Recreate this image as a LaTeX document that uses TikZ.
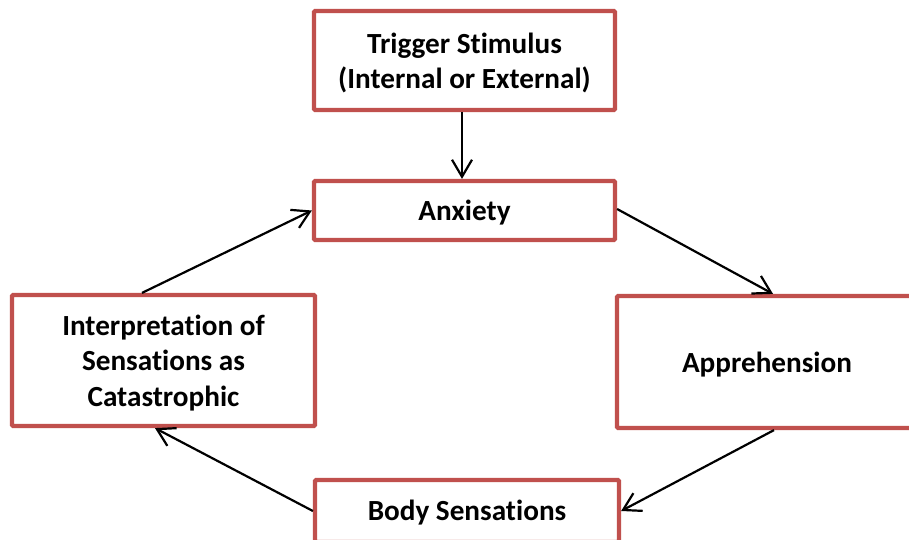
\documentclass[tikz,border=0pt]{standalone}
\usepackage{fontspec}
\setmainfont{Carlito}[Ligatures={NoCommon,NoRequired,NoContextual,NoDiscretionary}]
\usetikzlibrary{arrows.meta}
\definecolor{boxred}{HTML}{C0504D}
\tikzset{
  flowbox/.style={draw=boxred, line width=4.2pt, rectangle, rounded corners=1pt, fill=white, inner sep=0pt},
  boxtext/.style={align=center, inner sep=0pt, font=\fontsize{29.2}{35.5}\selectfont\bfseries},
  flowarrow/.style={draw=black, line width=2.2pt, -{Straight Barb[length=17pt,width=20pt,line width=2.2pt]}}
}
\begin{document}
\begin{tikzpicture}[x=1pt,y=-1pt]
\useasboundingbox (0,0) rectangle (909,540);
\clip (0,0) rectangle (909,540);
\fill[white] (0,0) rectangle (909,540);
\node[flowbox, minimum width=301pt, minimum height=99pt] (trig) at (464.5,60.5) {};
\node[flowbox, minimum width=301pt, minimum height=59pt] (anx) at (464.5,210.5) {};
\node[flowbox, minimum width=303pt, minimum height=131pt] (interp) at (163.5,360.5) {};
\node[flowbox, minimum width=300pt, minimum height=132pt] (appr) at (767,362) {};
\node[flowbox, minimum width=304pt, minimum height=62pt] (body) at (467,511) {};
\node[boxtext] (trigtext) at ([yshift=-2.5pt]trig.center) {Trigger Stimulus\\(Internal or External)};
\node[boxtext] (anxtext) at ([yshift=-2.5pt]anx.center) {Anxiety};
\node[boxtext] (interptext) at ([yshift=-2.5pt]interp.center) {Interpretation of\\Sensations as\\Catastrophic};
\node[boxtext] (apprtext) at ([yshift=-2.5pt]appr.center) {Apprehension};
\node[boxtext] (bodytext) at ([yshift=-2pt]body.center) {Body Sensations};
\draw[flowarrow] ([xshift=-2.5pt]trig.south) -- ([xshift=-2.5pt]anx.north);
\draw[flowarrow] ([yshift=1.5pt]anx.east) -- ([xshift=6pt]appr.north);
\draw[flowarrow] ([xshift=7pt]appr.south) -- (body.east);
\draw[flowarrow] (body.west) -- ([xshift=-8.5pt]interp.south);
\draw[flowarrow] ([xshift=-21.5pt]interp.north) -- (anx.west);
\end{tikzpicture}
\end{document}
